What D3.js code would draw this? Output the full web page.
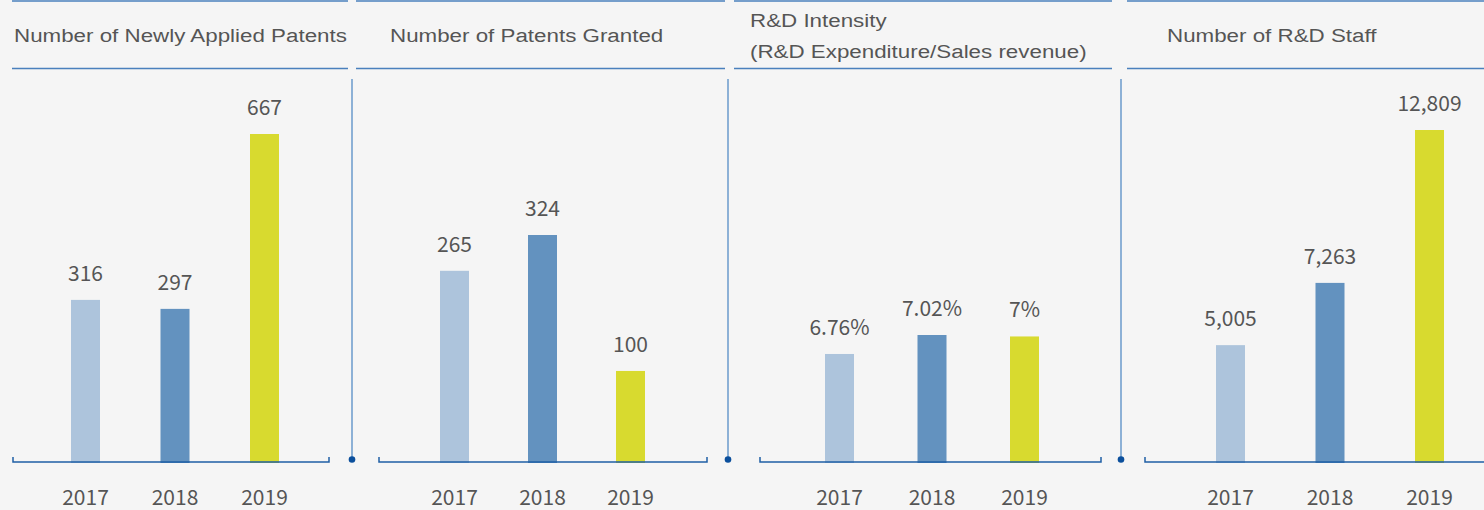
<!DOCTYPE html>
<html>
<head>
<meta charset="utf-8">
<script src="https://cdn.jsdelivr.net/npm/d3@7"></script>
<style>
  html, body { margin: 0; padding: 0; background: #f5f5f5; }
  svg { display: block; }
</style>
</head>
<body>
<div id="chart-area"></div>
<script>
// SVG size
var width = 1484,
	height = 510;

// data
const years = ["2017", "2018", "2019"];
const titles = [
	["Number of Newly Applied Patents"],
	["Number of Patents Granted"],
	["R&D Intensity", "(R&D Expenditure/Sales revenue)"],
	["Number of R&D Staff"]
];
const appliedPatents = [316, 297, 667];
const grantedPatents = [265, 324, 100];
const rdIntensity = [6.76, 7.02, 7];
const rdStaff = [5005, 7263, 12809];

const barColors = ["#adc4dc", "#6392bf", "#d8da2f"];
let baseline = 462;

// layout of each panel (header, axis, bar centres, value scale)
let panels = [
	{ values: appliedPatents, fmt: d3.format("d"), head: [12, 348], titleX: 14,
	  axis: [13, 329], bars: [85.5, 264.5], domain: [-27, 667], top: 328 },
	{ values: grantedPatents, fmt: d3.format("d"), head: [356, 725], titleX: 390,
	  axis: [379, 707], bars: [454.5, 630.5], domain: [-50, 324], top: 227 },
	{ values: rdIntensity, fmt: function(d){ return d + "%"; }, head: [734, 1112], titleX: 750,
	  axis: [760, 1101], bars: [839.5, 1024.5], domain: [5.28, 7.02], top: 127 },
	{ values: rdStaff, fmt: d3.format(","), head: [1127, 1484], titleX: 1167,
	  axis: [1145, 1490], bars: [1230.5, 1429.5], domain: [766, 12809], top: 332 }
];
let dividers = [352, 728, 1121];

let svg = d3.select("#chart-area")
	.append("svg")
	.attr("width", width)
	.attr("height", height);

svg.append("rect")
	.attr("width", width)
	.attr("height", height)
	.attr("fill", "#f5f5f5");

let barWidth = 29;

panels.forEach(function(p, i) {
	let g = svg.append("g");

	// header lines
	[1, 68.5].forEach(function(y) {
		g.append("line")
			.attr("x1", p.head[0]).attr("x2", p.head[1])
			.attr("y1", y).attr("y2", y)
			.attr("stroke", "#4a80bd")
			.attr("stroke-width", 1.5);
	});

	// title (the original type is a little wide, so stretch it)
	let t = g.append("text")
		.attr("transform", "translate(" + p.titleX + ",0) scale(1.177,1)")
		.style("font-family", "'Liberation Sans', Arial, sans-serif")
		.style("font-size", "19px")
		.style("fill", "#555");
	if (titles[i].length == 1) {
		t.append("tspan").attr("x", 0).attr("y", 42).text(titles[i][0]);
	} else {
		t.append("tspan").attr("x", 0).attr("y", 27).text(titles[i][0]);
		t.append("tspan").attr("x", 0).attr("y", 58).text(titles[i][1]);
	}

	// scales
	let xScale = d3.scalePoint()
		.domain(years)
		.range(p.bars);

	let yScale = d3.scaleLinear()
		.domain(p.domain)
		.range([baseline, baseline - p.top]);

	let data = years.map(function(y, j) { return { year: y, value: p.values[j], color: barColors[j] }; });

	g.selectAll("rect.bar")
		.data(data)
		.enter()
		.append("rect")
		.attr("class", "bar")
		.attr("x", function(d){ return xScale(d.year) - barWidth / 2; })
		.attr("y", function(d){ return yScale(d.value); })
		.attr("width", barWidth)
		.attr("height", function(d){ return baseline + 1 - yScale(d.value); })
		.attr("fill", function(d){ return d.color; });

	g.selectAll("text.value")
		.data(data)
		.enter()
		.append("text")
		.attr("class", "value")
		.attr("x", function(d){ return xScale(d.year); })
		.attr("y", function(d){ return yScale(d.value) - 19; })
		.attr("text-anchor", "middle")
		.style("font-family", "'Noto Sans CJK SC', 'Noto Sans', sans-serif")
		.style("font-size", "21px")
		.style("fill", "#555")
		.text(function(d){ return p.fmt(d.value); });

	// axis line with end ticks
	g.append("path")
		.attr("d", "M" + p.axis[0] + "," + (baseline - 5) + "V" + baseline + "H" + p.axis[1] + "V" + (baseline - 5))
		.attr("fill", "none")
		.attr("stroke", "#1f5fa5")
		.attr("stroke-width", 1.5);

	g.selectAll("text.year")
		.data(years)
		.enter()
		.append("text")
		.attr("class", "year")
		.attr("x", function(d){ return xScale(d); })
		.attr("y", 505)
		.attr("text-anchor", "middle")
		.style("font-family", "'Noto Sans CJK SC', 'Noto Sans', sans-serif")
		.style("font-size", "21px")
		.style("fill", "#555")
		.text(function(d){ return d; });
});

// vertical dividers with dots
dividers.forEach(function(x) {
	svg.append("line")
		.attr("x1", x).attr("x2", x)
		.attr("y1", 79).attr("y2", 459)
		.attr("stroke", "#6a9acb")
		.attr("stroke-width", 1.5);
	svg.append("circle")
		.attr("cx", x).attr("cy", 459.5)
		.attr("r", 3.3)
		.attr("fill", "#0b4f9c");
});
</script>
</body>
</html>
